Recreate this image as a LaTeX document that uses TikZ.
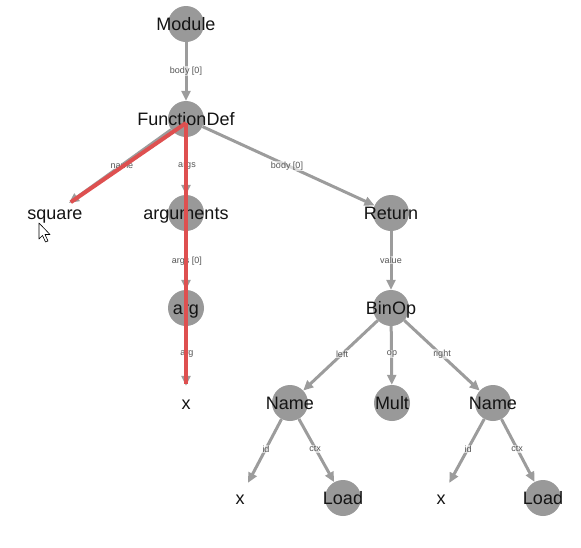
\documentclass[tikz,border=0pt]{standalone}
\usepackage{fontspec}
\setmainfont{Liberation Sans}
\usetikzlibrary{arrows.meta}
\definecolor{nodegray}{RGB}{153,153,153}
\definecolor{edgegray}{RGB}{156,156,156}
\definecolor{hilite}{RGB}{222,80,80}
\definecolor{labelgray}{RGB}{85,85,85}
\begin{document}
\begin{tikzpicture}[x=1pt,y=-1pt,
  ast/.style={circle,fill=nodegray,minimum size=36pt,inner sep=0pt},
  leaf/.style={circle,minimum size=34pt,inner sep=0pt},
  lbl/.style={font=\fontsize{18}{18}\selectfont,text=black!92,inner sep=0pt,text height=13pt,text depth=0pt},
  edge/.style={draw=edgegray,line width=3pt,-{Triangle[length=10pt,width=9pt]}},
  elabel/.style={font=\fontsize{9}{9}\selectfont,text=labelgray,fill=white,fill opacity=0.6,text opacity=1,inner sep=1pt},
  hl/.style={draw=hilite,line width=4pt,shorten >=2pt}
]
\useasboundingbox (0,0) rectangle (581,547);

% tree nodes
\node[ast,label={[lbl]center:Module}]      (mod)  at (186,24)  {};
\node[ast,label={[lbl]center:FunctionDef}] (fd)   at (186,119) {};
\node[leaf,label={[lbl]center:square}]     (sq)   at (55,213)  {};
\node[ast,label={[lbl]center:arguments}]   (args) at (186,213) {};
\node[ast,label={[lbl]center:Return}]      (ret)  at (391,213) {};
\node[ast,label={[lbl]center:arg}]         (arg)  at (186,308) {};
\node[ast,label={[lbl]center:BinOp}]       (bin)  at (391,308) {};
\node[leaf,label={[lbl]center:x}]          (xa)   at (186,403) {};
\node[ast,label={[lbl]center:Name}]        (nl)   at (290,403) {};
\node[ast,label={[lbl]center:Mult}]        (mult) at (392,403) {};
\node[ast,label={[lbl]center:Name}]        (nr)   at (493,403) {};
\node[leaf,label={[lbl]center:x}]          (xl)   at (240,498) {};
\node[ast,label={[lbl]center:Load}]        (ll)   at (343,498) {};
\node[leaf,label={[lbl]center:x}]          (xr)   at (441,498) {};
\node[ast,label={[lbl]center:Load}]        (lr)   at (543,498) {};

% connectors
\draw[edge] (mod)  -- (fd);
\draw[edge] (fd)   -- (sq);
\draw[edge] (fd)   -- (args);
\draw[edge] (fd)   -- (ret);
\draw[edge] (args) -- (arg);
\draw[edge] (arg)  -- (xa);
\draw[edge] (ret)  -- (bin);
\draw[edge] (bin)  -- (nl);
\draw[edge] (bin)  -- (mult);
\draw[edge] (bin)  -- (nr);
\draw[edge] (nl)   -- (xl);
\draw[edge] (nl)   -- (ll);
\draw[edge] (nr)   -- (xr);
\draw[edge] (nr)   -- (lr);

% connector labels
\node[elabel] (lb1)  at (186,71)  {body [0]};
\node[elabel] (lb2)  at (122,166) {name};
\node[elabel] (lb3)  at (187,166) {args};
\node[elabel] (lb4)  at (287,166) {body [0]};
\node[elabel] (lb5)  at (187,261) {args [0]};
\node[elabel] (lb6)  at (187,354) {arg};
\node[elabel] (lb7)  at (391,260) {value};
\node[elabel] (lb8)  at (342,354) {left};
\node[elabel] (lb9)  at (392,354) {op};
\node[elabel] (lb10) at (442,354) {right};
\node[elabel] (lb11) at (266,449) {id};
\node[elabel] (lb12) at (315,449) {ctx};
\node[elabel] (lb13) at (468,449) {id};
\node[elabel] (lb14) at (517,449) {ctx};

% highlighted path
\draw[hl] ([yshift=-4pt]fd.center) -- (sq);
\draw[hl] ([yshift=-4pt]fd.center) -- (xa);

% mouse pointer
\draw[fill=white,line width=0.6pt,line join=round]
  (39,223) -- (39,239) -- (42.5,235.5) -- (45.5,242) -- (48,241) -- (45,234.5) -- (50,234.5) -- cycle;
\end{tikzpicture}
\end{document}
